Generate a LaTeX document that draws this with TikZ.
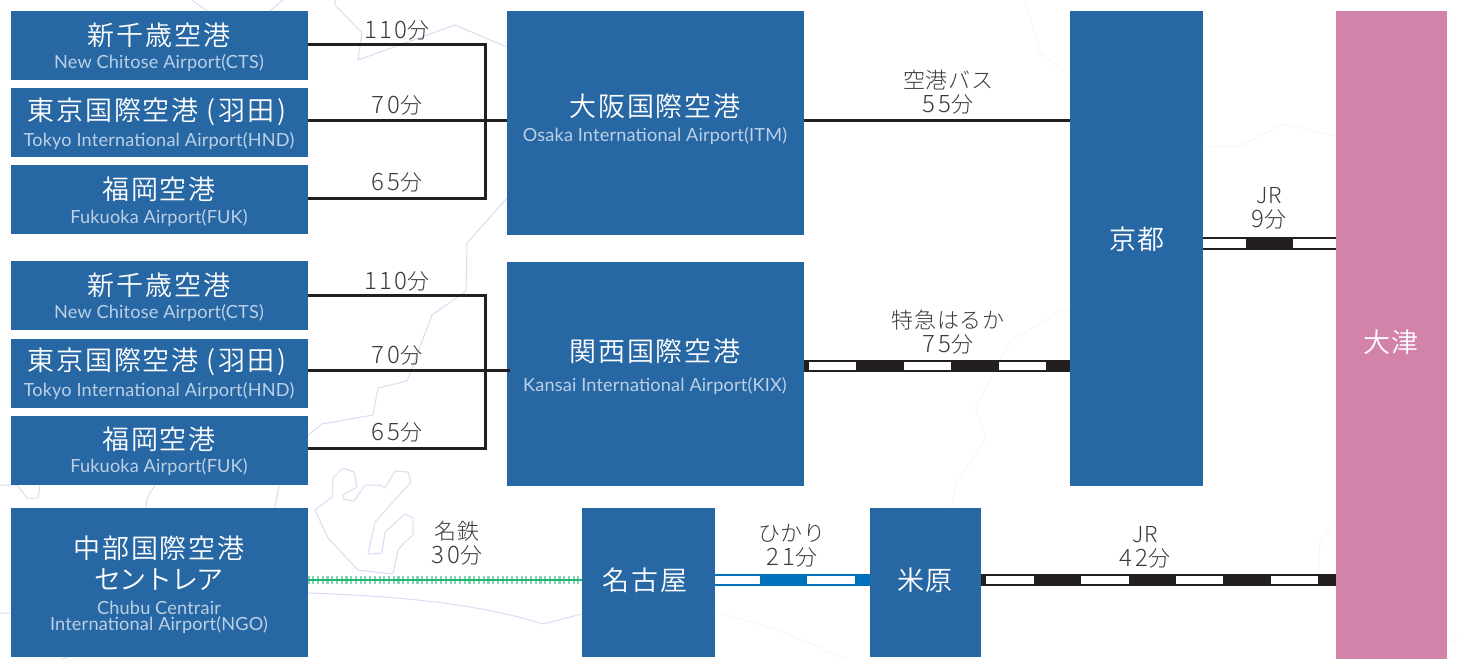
\documentclass[tikz,border=0pt]{standalone}
\usepackage{fontspec}
\setmainfont{Noto Sans CJK JP}
\newfontfamily\jpT{Noto Sans CJK JP}[UprightFont=* DemiLight,LetterSpace=7]
\newfontfamily\jpK{Noto Sans CJK JP}[UprightFont=* DemiLight,LetterSpace=-5]
\newfontfamily\jpL{Noto Sans CJK JP}[UprightFont=* Light,LetterSpace=3]
\newfontfamily\jpD{Noto Sans CJK JP}[UprightFont=* Light,LetterSpace=10]
\newfontfamily\enS{Lato}[LetterSpace=1]
\newcommand{\dg}[1]{{\jpD\fontsize{18}{18}\selectfont #1}}
\definecolor{boxblue}{HTML}{2767A3}
\definecolor{pinkbox}{HTML}{D183A9}
\definecolor{subblue}{HTML}{BCD0E6}
\definecolor{ink}{HTML}{231F20}
\definecolor{labelgrey}{HTML}{3A3A3A}
\definecolor{hikari}{HTML}{0072BC}
\definecolor{meitetsu}{HTML}{22B573}
\definecolor{mapline}{HTML}{D5DFF1}
\definecolor{mapfaint}{HTML}{F6F7FA}
\tikzset{
  stationbox/.style={fill=boxblue,draw=none,inner sep=0pt,outer sep=0pt,minimum width=#1,anchor=north west},
  title/.style={text=white,inner sep=0pt,font=\jpT\fontsize{20.25}{23}\selectfont,align=center},
  subtitle/.style={text=subblue,inner sep=0pt,font=\enS\fontsize{13.6}{12}\selectfont,align=center},
  timelabel/.style={text=labelgrey,inner sep=0pt,font=\jpL\fontsize{16.5}{18}\selectfont,align=center},
  wire/.style={draw=ink,line width=3*0.75pt},
  mapedge/.style={draw=mapline,line width=0.75pt,line join=round},
  mapedgefaint/.style={draw=mapfaint,line width=0.75pt,line join=round}
}
% rail: #1 colour, #2 and #3 ends, #4 dash phase in px
\newcommand{\railline}[4]{%
  \draw[#1,line width=9.1pt] (#2) -- (#3);
  \draw[white,line width=6.3pt] (#2) -- (#3);
  \draw[#1,line width=6.9pt,dash pattern=on 35.55pt off 35.55pt,dash phase=#4*0.75pt] (#2) -- (#3);
}
\begin{document}
\begin{tikzpicture}[x=0.75pt,y=-0.75pt]
\useasboundingbox (0,0) rectangle (1458,660);
\fill[white] (0,0) rectangle (1458,660);
% background map
\draw[mapedge] (192,0)--(207,11) (283,0)--(270,11);
\draw[mapedge] (335,0)--(335,5)--(362,33)--(358,60)--(455,25)--(507,47);
\draw[mapedge] (507,198)--(467,243)--(466,291)--(432,315)--(407,381)--(378,388)--(373,415)--(322,424)--(307,436);
\draw[mapedge] (0,485)--(17,485)--(27,498)--(38,498)--(40,485);
\draw[mapedge] (155,485)--(147,498)--(146,508) (279,485)--(275,508);
\draw[mapedge] (315,510)--(332,497)--(333,478)--(343,468)--(354,472)--(357,487)--(343,495)--(343,499)--(354,501)--(365,485)--(380,485)--(385,488)--(395,471)--(408,472)--(411,482)--(375,522)--(368,554)--(382,553)--(385,532)--(405,514)--(413,518)--(413,535)--(405,542)--(398,550)--(393,574)--(358,570)--(328,538)--cycle;
\draw[mapedge] (307,593) .. controls (400,596) and (480,604) .. (543,624) -- (582,614);
\draw[mapedge] (0,613)--(10,613) (62,659)--(75,655);
\draw[mapedgefaint] (1025,0)--(1040,52)--(1070,77);
\draw[mapedgefaint] (1203,147)--(1240,146)--(1283,124)--(1336,136);
\draw[mapedgefaint] (1070,311)--(1058,312)--(1010,342)--(990,380)--(975,408)--(986,438)--(956,483)--(952,507);
\draw[mapedgefaint] (715,613) .. controls (760,622) and (805,640) .. (847,660);
\draw[mapedgefaint] (1336,525)--(1320,540)--(1318,573);
\draw[mapedgefaint] (1447,643)--(1458,637);
% boxes
\node[stationbox=297*0.75pt,minimum height=51.75pt] (ctsA) at (10.5,11) {};
\node[stationbox=297*0.75pt,minimum height=51.75pt] (hndA) at (10.5,88) {};
\node[stationbox=297*0.75pt,minimum height=51.75pt] (fukA) at (10.5,165) {};
\node[stationbox=297*0.75pt,minimum height=51.75pt] (ctsB) at (10.5,261) {};
\node[stationbox=297*0.75pt,minimum height=51.75pt] (hndB) at (10.5,339) {};
\node[stationbox=297*0.75pt,minimum height=51.75pt] (fukB) at (10.5,416) {};
\node[stationbox=297*0.75pt,minimum height=111.75pt] (ngo) at (10.5,508) {};
\node[stationbox=297*0.75pt,minimum height=168pt] (itm) at (506.5,11) {};
\node[stationbox=297*0.75pt,minimum height=168pt] (kix) at (506.5,262) {};
\node[stationbox=133*0.75pt,minimum height=356.25pt] (kyoto) at (1070,11) {};
\node[stationbox=133*0.75pt,minimum height=111.75pt] (nagoya) at (582,508) {};
\node[stationbox=111*0.75pt,minimum height=111.75pt] (maibara) at (870,508) {};
\node[stationbox=111*0.75pt,minimum height=486pt,fill=pinkbox] (otsu) at (1336,11) {};
% level coordinates
\coordinate (jA) at (485,120);
\coordinate (jB) at (485,370);
\coordinate (lvA) at (0,45);
\coordinate (lvB) at (0,120);
\coordinate (lvC) at (0,198);
\coordinate (lvD) at (0,295);
\coordinate (lvE) at (0,370);
\coordinate (lvF) at (0,448);
\coordinate (lvKix) at (0,366);
\coordinate (lvKyoto) at (0,243.5);
\coordinate (lvLow) at (0,580);
\coordinate (kixIn) at (510,370);
% connectors
\draw[wire] (ctsA.east |- lvA) -- (jA |- lvA) -- (jA |- lvC) -- (fukA.east |- lvC);
\draw[wire] (hndA.east |- lvB) -- (itm.west |- lvB);
\draw[wire] (ctsB.east |- lvD) -- (jB |- lvD) -- (jB |- lvF) -- (fukB.east |- lvF);
\draw[wire] (hndB.east |- lvE) -- (kixIn);
\draw[wire] (itm.east |- lvB) -- (kyoto.west |- lvB);
\railline{ink}{kix.east |- lvKix}{kyoto.west |- lvKix}{42}
\railline{ink}{kyoto.east |- lvKyoto}{otsu.west |- lvKyoto}{51.8}
\railline{ink}{maibara.east |- lvLow}{otsu.west |- lvLow}{42}
\railline{hikari}{nagoya.east |- lvLow}{maibara.west |- lvLow}{49.8}
\draw[meitetsu,opacity=.55,line width=5.6pt,dash pattern=on 1.6pt off 1.95pt] (ngo.east |- lvLow) -- (nagoya.west |- lvLow);
\draw[meitetsu,line width=1.3pt] (ngo.east |- lvLow) -- (nagoya.west |- lvLow);
% box texts
\node[title] (t1) at (159,35) {新千歳空港};
\node[subtitle] (s1) at (159,63.5) {New Chitose Airport(CTS)};
\node[title] (t2) at (157,112) {東京国際空港\kern6pt(\kern2pt羽田\kern2.5pt)};
\node[subtitle] (s2) at (159,141) {Tokyo International Airport(HND)};
\node[title] (t3) at (159,189) {福岡空港};
\node[subtitle] (s3) at (159,218.5) {Fukuoka Airport(FUK)};
\node[title] (t4) at (159,285) {新千歳空港};
\node[subtitle] (s4) at (159,313.5) {New Chitose Airport(CTS)};
\node[title] (t5) at (157,362) {東京国際空港\kern6pt(\kern2pt羽田\kern2.5pt)};
\node[subtitle] (s5) at (159,391) {Tokyo International Airport(HND)};
\node[title] (t6) at (159,439) {福岡空港};
\node[subtitle] (s6) at (159,467.5) {Fukuoka Airport(FUK)};
\node[title] (t7) at (159,563) {中部国際空港\\{\jpK セントレア}};
\node[subtitle] (s7) at (159,617) {Chubu Centrair\\International Airport(NGO)};
\node[title] (t8) at (655,106) {大阪国際空港};
\node[subtitle] (s8) at (655,136.5) {Osaka International Airport(ITM)};
\node[title] (t9) at (655,351) {関西国際空港};
\node[subtitle] (s9) at (655,386) {Kansai International Airport(KIX)};
\node[title] (t10) at (1137,239) {京都};
\node[title] (t11) at (1391,342) {大津};
\node[title] (t12) at (645,580) {名古屋};
\node[title] (t13) at (925,580) {米原};
% time labels
\node[timelabel] (l1) at (397,30) {\dg{110}分};
\node[timelabel] (l2) at (397,105) {\dg{70}分};
\node[timelabel] (l3) at (397,182) {\dg{65}分};
\node[timelabel] (l4) at (397,281) {\dg{110}分};
\node[timelabel] (l5) at (397,355) {\dg{70}分};
\node[timelabel] (l6) at (397,432) {\dg{65}分};
\node[timelabel] (l7) at (948,92) {空港バス\\\dg{55}分};
\node[timelabel] (l8) at (948,332) {特急はるか\\\dg{75}分};
\node[timelabel] (l9) at (1269,208) {JR\\\dg{9}分};
\node[timelabel] (l10) at (457,543) {名鉄\\\dg{30}分};
\node[timelabel] (l11) at (792,546) {ひかり\\\dg{21}分};
\node[timelabel] (l12) at (1145,547) {JR\\\dg{42}分};
\end{tikzpicture}
\end{document}
